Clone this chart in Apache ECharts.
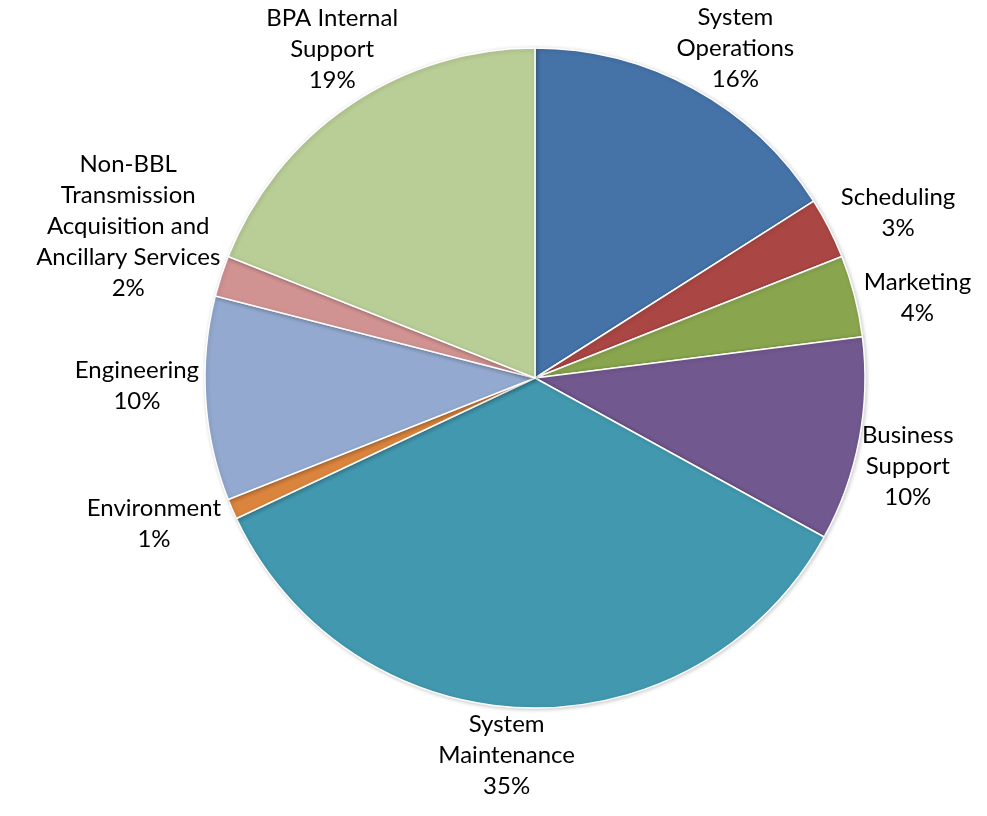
<!DOCTYPE html>
<html>
<head>
<meta charset="utf-8">
<style>
  html, body { margin: 0; padding: 0; background: #ffffff; }
  #chart { width: 987px; height: 816px; }
</style>
<script src="https://cdn.jsdelivr.net/npm/echarts@6/dist/echarts.min.js"></script>
</head>
<body>
<div id="chart"></div>
<script>
// Budget share by program area (percent), clockwise from 12 o'clock
const categories = [
  'System\nOperations',
  'Scheduling',
  'Marketing',
  'Business\nSupport',
  'System\nMaintenance',
  'Environment',
  'Engineering',
  'Non-BBL\nTransmission\nAcquisition and\nAncillary Services',
  'BPA Internal\nSupport'
];
const shares = [16, 3, 4, 10, 35, 1, 10, 2, 19];
const sliceColors = [
  '#4572A7', '#AA4643', '#89A54E', '#71588F', '#4198AF',
  '#DB843D', '#93A9CF', '#D19392', '#B9CD96'
];

const CX = 535, CY = 378, R = 330, GAP = 6;
const FONT_SIZE = 24, LINE_H = 31;
const FONT = FONT_SIZE + 'px Lato';
// labels lean slightly clockwise of the slice bisector
const LABEL_TURN = 2.5 * Math.PI / 180;

const total = shares.reduce((a, b) => a + b, 0);

// label text: name plus rounded share of the total
const labelTexts = categories.map((n, i) => n + '\n' + Math.round(shares[i] / total * 100) + '%');

// mid-angle of each slice, measured clockwise from the top
const midAngles = [];
let acc = 0;
shares.forEach(v => {
  midAngles.push((acc + v / 2) / total * 2 * Math.PI);
  acc += v;
});

// measure a multi-line label block (ink height, not full line boxes)
const measureCtx = document.createElement('canvas').getContext('2d');
measureCtx.font = FONT;
function blockSize(text) {
  const lines = text.split('\n');
  const w = Math.max.apply(null, lines.map(l => measureCtx.measureText(l).width));
  return { w: w, h: lines.length * LINE_H - 8 };
}

// each label box sits just beyond the rim, centred on a ray through its slice
const labelGraphics = labelTexts.map((text, i) => {
  const a = midAngles[i] + LABEL_TURN;
  const sx = Math.sin(a), sy = -Math.cos(a);
  const s = blockSize(text);
  const ex = Math.abs(sx) > 1e-6 ? (s.w / 2) / Math.abs(sx) : Infinity;
  const ey = Math.abs(sy) > 1e-6 ? (s.h / 2) / Math.abs(sy) : Infinity;
  const d = R + GAP + Math.min(ex, ey);
  return {
    type: 'text',
    x: CX + d * sx,
    y: CY + d * sy,
    silent: true,
    style: {
      text: text,
      font: FONT,
      fontFamily: 'Lato',
      fontSize: FONT_SIZE,
      lineHeight: LINE_H,
      fill: '#000000',
      align: 'center',
      verticalAlign: 'middle'
    }
  };
});

const chart = echarts.init(document.getElementById('chart'), null, { renderer: 'canvas' });

chart.setOption({
  animation: false,
  series: [{
    type: 'pie',
    center: [CX, CY],
    radius: [0, R],
    startAngle: 90,
    clockwise: true,
    data: categories.map((name, i) => ({
      name: name,
      value: shares[i],
      itemStyle: { color: sliceColors[i] }
    })),
    itemStyle: {
      borderColor: '#ffffff',
      borderWidth: 1.5,
      shadowBlur: 4,
      shadowColor: 'rgba(0,0,0,0.2)',
      shadowOffsetX: 1,
      shadowOffsetY: 1
    },
    label: { show: false },
    labelLine: { show: false },
    emphasis: { disabled: true }
  }],
  graphic: labelGraphics
});
</script>
</body>
</html>
